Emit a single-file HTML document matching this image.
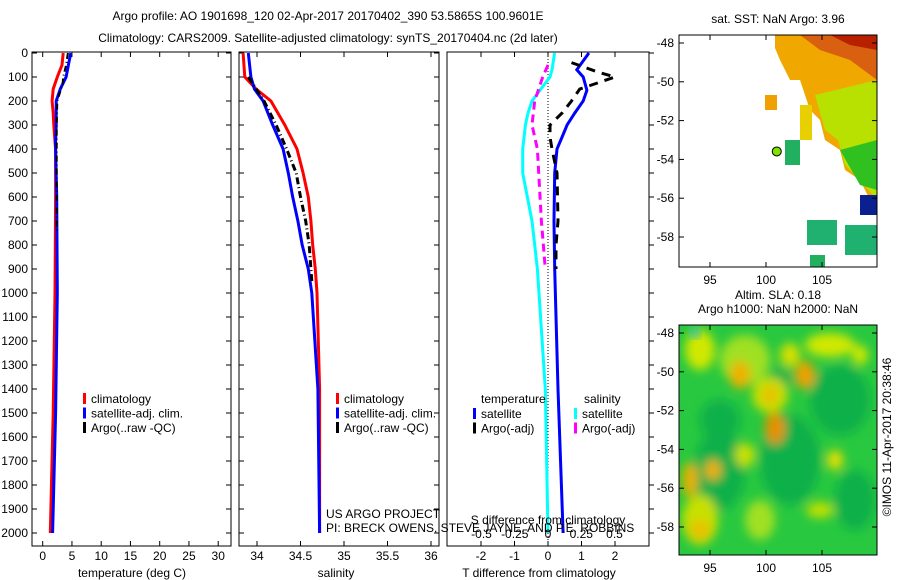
<!DOCTYPE html>
<html><head><meta charset="utf-8">
<style>
body{margin:0;background:#fff;}
svg{display:block;font-family:"Liberation Sans",sans-serif;font-size:12px;}
</style></head>
<body>
<svg id="c" width="900" height="580" viewBox="0 0 900 580">
<defs>
<filter id="bl" x="-20%" y="-20%" width="140%" height="140%"><feGaussianBlur stdDeviation="5"/></filter>
<clipPath id="m2c"><rect x="679" y="325" width="198" height="230"/></clipPath>
<clipPath id="m1c"><rect x="679" y="35" width="198" height="232"/></clipPath>
</defs>
<text x="328" y="20" text-anchor="middle">Argo profile: AO 1901698_120 02-Apr-2017 20170402_390 53.5865S 100.9601E</text>
<text x="328" y="42" text-anchor="middle">Climatology: CARS2009. Satellite-adjusted climatology: synTS_20170404.nc (2d later)</text>
<g id="g"></g>
</svg>
<script>
// ---- data ----
const tDepth = [0,50,100,150,200,250,300,370,400,600,1000,1500,2000];
const tClim  = [3.5,3.3,2.5,1.8,1.6,1.8,1.9,2.1,2.2,2.2,2.1,1.8,1.3];
const tSat   = [4.8,4.4,4.0,3.0,2.3,2.3,2.3,2.2,2.2,2.4,2.5,2.2,1.7];
const argoTDepth = [0,50,100,130,200,300,500,740];
const argoT      = [4.3,4.0,3.5,3.4,2.5,2.4,2.4,2.4];
const sDepth = [0,100,150,200,300,400,500,600,700,800,900,1000,1400,2000];
const sClim  = [33.84,33.86,33.99,34.16,34.32,34.46,34.53,34.59,34.62,34.64,34.67,34.69,34.72,34.72];
const sSat   = [33.9,33.93,33.97,34.07,34.18,34.3,34.36,34.41,34.47,34.52,34.59,34.63,34.7,34.72];
const argoSDepth = [100,200,300,400,500,600,700,800,900,950];
const argoS      = [33.9,34.08,34.22,34.34,34.45,34.5,34.56,34.6,34.62,34.63];
const dDepth = [0,70,100,155,200,250,300,350,400,500,700,900,1400,2000];
const dTSat  = [1.22,0.86,1.05,1.16,1.05,0.8,0.57,0.42,0.27,0.2,0.18,0.2,0.3,0.45];
const dTArgoDepth = [40,80,100,150,200,250,300,350,400,500,700,800,900];
const dTArgo = [0.7,1.5,2.0,0.95,0.7,0.42,0.06,0.06,0.12,0.27,0.3,0.24,0.24];
const dSSat  = [0.05,0.03,0.015,-0.06,-0.12,-0.15,-0.17,-0.18,-0.19,-0.19,-0.12,-0.08,-0.02,0];
const dSArgoDepth = [50,100,200,300,400,500,700,900];
const dSArgo = [0.0,-0.04,-0.1,-0.12,-0.08,-0.07,-0.05,-0.02];
const depthTicks = [0,100,200,300,400,500,600,700,800,900,1000,1100,1200,1300,1400,1500,1600,1700,1800,1900,2000];
const tTicks = [0,5,10,15,20,25,30];
const sTicks = [34,34.5,35,35.5,36];
const dTTicks = [-2,-1,0,1,2];
const dSTicks = [-0.5,-0.25,0,0.25,0.5];
const latTicks = [-48,-50,-52,-54,-56,-58];
const lonTicks = [95,100,105];

const NS="http://www.w3.org/2000/svg";
const G=document.getElementById('g');
function el(tag,attrs,parent){const e=document.createElementNS(NS,tag);for(const k in attrs)e.setAttribute(k,attrs[k]);(parent||G).appendChild(e);return e;}
function txt(x,y,s,anchor,parent){const t=el('text',{x:x,y:y,'text-anchor':anchor||'start'},parent);t.textContent=s;return t;}

const Y0=53, YB=546;
const yD=d=>Y0+d*0.24;
const xT=v=>42.7+v*5.85;
const xS=v=>257+(v-34)*87;
const xDT=v=>548+v*33.5;
const xDS=v=>548+v*133;

function frame(x1,x2,name){
  const r=el('rect',{x:x1,y:Y0-1,width:x2-x1,height:YB-Y0+1,fill:'none',stroke:'#000','stroke-width':1});
  
  
}
function line(xs,ds,fx,color,w,dash,name){
  let p='';for(let i=0;i<xs.length;i++)p+=(i?'L':'M')+fx(xs[i]).toFixed(1)+','+yD(ds[i]).toFixed(1);
  const e=el('path',{d:p,fill:'none',stroke:color,'stroke-width':w});
  if(dash)e.setAttribute('stroke-dasharray',dash);
  
  
}
function xticks(vals,fx,labels,y){
  vals.forEach(v=>{const x=fx(v);el('line',{x1:x,y1:YB,x2:x,y2:YB-5,stroke:'#000'});el('line',{x1:x,y1:Y0-1,x2:x,y2:Y0+4,stroke:'#000'});
    if(labels){const t=txt(x,y,String(v),'middle');}});
}
function yticks(x1,x2,lab){
  depthTicks.forEach(d=>{const y=yD(d);el('line',{x1:x1,y1:y,x2:x1+5,y2:y,stroke:'#000'});el('line',{x1:x2,y1:y,x2:x2-5,y2:y,stroke:'#000'});
    if(lab){const t=txt(28,y+4,String(d),'end');}});
}
// panel 1
frame(32,231,'temperature-panel');
yticks(32,231,true);
xticks(tTicks,xT,true,560);
line(tClim,tDepth,xT,'#f00',3,null,'temp-climatology-line');
line(tSat,tDepth,xT,'#00f',3,null,'temp-satellite-line');
line(argoT,argoTDepth,xT,'#000',2,'6,3,1,3','temp-argo-line');
let t=txt(132,577,'temperature (deg C)','middle');
// panel 2
frame(239,439,'salinity-panel');
yticks(239,439,false);
xticks(sTicks,xS,true,560);
line(sClim,sDepth,xS,'#f00',3,null,'sal-climatology-line');
line(sSat,sDepth,xS,'#00f',3,null,'sal-satellite-line');
line(argoS,argoSDepth,xS,'#000',3,'7,3,1,3','sal-argo-line');
t=txt(336,577,'salinity','middle');
// panel 3
frame(447,649,'difference-panel');
depthTicks.forEach(d=>{const y=yD(d);el('line',{x1:649,y1:y,x2:654,y2:y,stroke:'#000'});});
xticks(dTTicks,xDT,true,560);
el('line',{x1:548,y1:Y0,x2:548,y2:YB,stroke:'#000','stroke-dasharray':'1,2'});
line(dSSat,dDepth,xDS,'#0ff',3,null,'sal-diff-satellite-line');
line(dSArgo,dSArgoDepth,xDS,'#f0f',3,'8,5','sal-diff-argo-line');
line(dTSat,dDepth,xDT,'#00f',3,null,'temp-diff-satellite-line');
line(dTArgo,dTArgoDepth,xDT,'#000',3,'9,7','temp-diff-argo-line');
dSTicks.forEach(v=>{const t2=txt(xDS(v),538,String(v),'middle');});
t=txt(548,524,'S difference from climatology','middle');
t=txt(539,577,'T difference from climatology','middle');
// credits
t=txt(326,518,'US ARGO PROJECT');
t=txt(326,532,'PI: BRECK OWENS, STEVE JAYNE, AND P.E. ROBBINS');

function legend(x,y,items,name){
  const g=el('g',{});
  items.forEach((it,i)=>{const yy=y+i*14.5;
    if(it[0])el('rect',{x:x,y:yy-10,width:3,height:11,fill:it[0]},g);
    txt(x+(it[0]?8:0),yy,it[1],'start',g);});
}
legend(83,403,[['#f00','climatology'],['#00f','satellite-adj. clim.'],['#000','Argo(..raw -QC)']],'temp-legend');
legend(336,403,[['#f00','climatology'],['#00f','satellite-adj. clim.'],['#000','Argo(..raw -QC)']],'sal-legend');
legend(481,403,[[null,'temperature']],'t-legend-title');
legend(473,418,[['#00f','satellite'],['#000','Argo(-adj)']],'t-diff-legend');
legend(584,403,[[null,'salinity']],'s-legend-title');
legend(574,418,[['#0ff','satellite'],['#f0f','Argo(-adj)']],'s-diff-legend');

// ---- maps ----
const xL=v=>766+(v-100)*11.2;
function mapAxes(top,h,name,titles){
  const yL=lat=>top+8+(-48-lat)*19.4;
  const r=el('rect',{x:679,y:top,width:198,height:h,fill:'none',stroke:'#000'});
  
  latTicks.forEach(l=>{const y=yL(l);el('line',{x1:679,y1:y,x2:684,y2:y,stroke:'#000'});el('line',{x1:877,y1:y,x2:872,y2:y,stroke:'#000'});
    const tt=txt(674,y+4,String(l),'end');});
  lonTicks.forEach(l=>{const x=xL(l);el('line',{x1:x,y1:top+h,x2:x,y2:top+h-5,stroke:'#000'});el('line',{x1:x,y1:top,x2:x,y2:top+5,stroke:'#000'});
    const tt=txt(x,top+h+17,String(l),'middle');});
  titles.forEach((s,i)=>{const tt=txt(778,top-26+i*14+(titles.length==1?14:0),s,'middle');});
}
// SST map patches
const m1=el('g',{'clip-path':'url(#m1c)'});
el('polygon',{points:'775,35 877,35 877,200 870,200 860,180 845,170 840,150 825,140 820,120 810,110 800,80 790,80 780,60 775,48',fill:'#f0a800'},m1);
el('polygon',{points:'800,35 877,35 877,80 850,60 820,50',fill:'#d86010'},m1);
el('polygon',{points:'830,35 877,35 877,50 850,45',fill:'#b82000'},m1);
el('polygon',{points:'815,95 877,80 877,200 860,180 845,165 838,140 825,130',fill:'#b8e000'},m1);
el('polygon',{points:'840,150 877,140 877,190 860,185',fill:'#30c020'},m1);
el('rect',{x:800,y:105,width:12,height:35,fill:'#e8d000'},m1);
el('rect',{x:765,y:95,width:12,height:15,fill:'#f0a000'},m1);
el('rect',{x:785,y:140,width:15,height:25,fill:'#20b060'},m1);
el('rect',{x:810,y:255,width:15,height:12,fill:'#20b060'},m1);
el('rect',{x:807,y:220,width:30,height:25,fill:'#20b070'},m1);
el('rect',{x:845,y:225,width:32,height:30,fill:'#20b070'},m1);
el('rect',{x:860,y:195,width:17,height:20,fill:'#0a2090'},m1);
const dot=el('circle',{cx:xL(100.96),cy:35+8+5.59*19.4,r:4.5,fill:'#80e000',stroke:'#000'},m1);
mapAxes(35,232,'sst-map-frame',['sat. SST: NaN Argo: 3.96']);
// SLA map
const m2=el('g',{'clip-path':'url(#m2c)'});
el('rect',{x:679,y:325,width:198,height:230,fill:'#28c840'},m2);
const bg=el('g',{filter:'url(#bl)'},m2);
[[720,470,25,40,'#10b048'],[790,460,30,45,'#10b048'],[840,400,30,35,'#10b048'],[720,420,20,20,'#10b048'],[855,500,20,30,'#10b048'],[780,380,12,12,'#10b048'],
 [745,360,25,25,'#a0e020'],[770,395,18,18,'#c8e000'],[700,350,15,20,'#d0e800'],[830,345,25,12,'#d0e800'],[700,520,18,25,'#c8e000'],[760,520,15,20,'#a0e020'],
 [740,375,10,14,'#f0b000'],[770,395,8,10,'#e8c000'],[775,428,10,16,'#e89000'],[805,375,10,14,'#f0a000'],
 [690,480,8,18,'#e8b000'],[713,470,8,10,'#f0b000'],[700,530,10,10,'#e8c000'],[835,460,8,10,'#e8e000'],[860,355,8,10,'#d0e800'],
 [820,510,14,8,'#c0e000'],[790,355,10,12,'#d8e000'],[745,455,10,12,'#c8e000']]
 .forEach(b=>el('ellipse',{cx:b[0],cy:b[1],rx:b[2],ry:b[3],fill:b[4]},bg));
el('rect',{x:690,y:328,width:10,height:10,fill:'#30c0c0',filter:'url(#bl)'},m2);
mapAxes(325,230,'sla-map-frame',['Altim. SLA: 0.18','Argo h1000: NaN h2000: NaN']);
t=txt(0,0,'©IMOS 11-Apr-2017 20:38:46','middle');t.setAttribute('transform','translate(891,437) rotate(-90)');

</script>
</body></html>
